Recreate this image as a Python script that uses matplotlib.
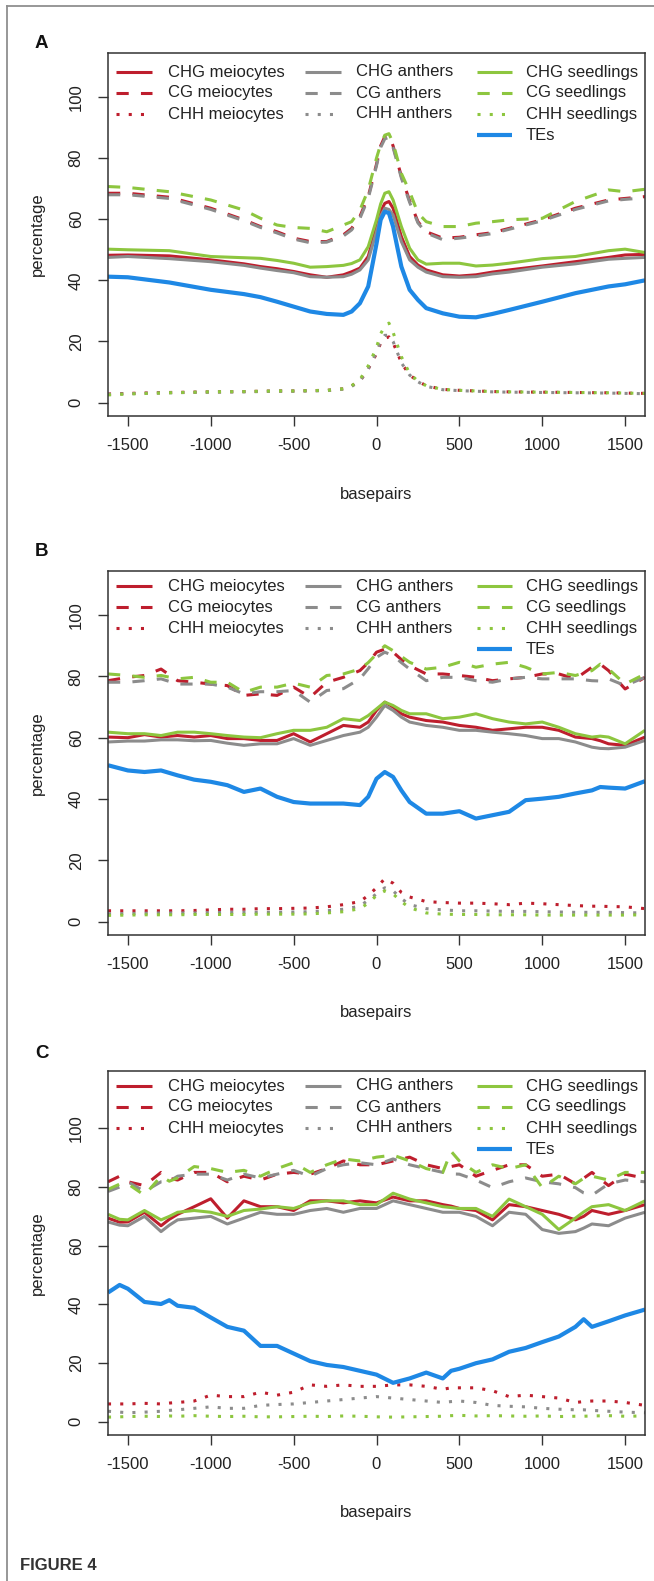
import matplotlib
matplotlib.use('Agg')
import matplotlib.pyplot as plt
from matplotlib.lines import Line2D

plt.rcParams['font.family'] = ['Liberation Sans', 'DejaVu Sans']

W, H = 654, 1581

# ---------------- panel A ----------------
xa = [-1620, -1500, -1250, -1000, -800, -700, -600, -500, -400, -300, -200, -150, -100, -50,
      0, 25, 50, 75, 100, 125, 150, 200, 250, 300, 400, 500, 600, 700, 800, 1000, 1200, 1400, 1500, 1620]
a_chg_mei = [48.2, 48.3, 48, 46.7, 45.4, 44.5, 43.8, 42.9, 41.8, 41, 41.8, 42.8, 44, 47.8, 57.6, 62.5, 65.2,
             65.8, 63.6, 59, 54.3, 47.8, 45, 43.4, 41.8, 41.4, 41.8, 42.7, 43.4, 44.7, 46.1, 47.5, 48.3, 48.5]
a_cg_mei = [68.5, 68.5, 67.2, 63.6, 59.8, 57.6, 55.9, 53.8, 52.7, 52.7, 54.9, 57, 60.9, 67.4, 78, 84, 87,
            87.5, 84, 79, 74, 66, 59.2, 55.9, 53.8, 54.1, 54.9, 55.6, 57, 59.8, 63.6, 66.3, 66.8, 67.4]
a_chh_mei = [2.8, 3, 3.3, 3.5, 3.6, 3.7, 3.8, 3.8, 3.9, 4, 4.5, 5.5, 7, 11, 16, 19.5, 21, 21.5, 19.5, 16.5,
             13, 9, 7, 5.5, 4.3, 4, 3.8, 3.6, 3.5, 3.4, 3.3, 3.2, 3.1, 3]
a_chg_ant = [47.5, 47.8, 47.1, 46.1, 44.9, 44, 43.2, 42.5, 41.2, 41, 41.2, 42, 43.4, 46.7, 55.9, 61, 63.6,
             63.2, 61.4, 57, 52.7, 46.7, 44.3, 42.7, 41.2, 41, 41.2, 42.1, 42.7, 44.3, 45.4, 46.9, 47.2, 47.5]
a_cg_ant = [68, 68, 66.8, 63.2, 59.5, 57.3, 55.5, 53.5, 52.3, 52.5, 54.5, 56.5, 60.3, 66.8, 77.5, 83.5, 86.3,
            86.8, 83.5, 78.5, 73.5, 65.5, 58.8, 55.5, 53.3, 53.8, 54.5, 55.3, 56.7, 59.5, 63.2, 66, 66.5, 67]
a_chh_ant = [2.7, 2.9, 3.2, 3.4, 3.5, 3.6, 3.7, 3.7, 3.8, 3.9, 4.4, 5.3, 7, 11, 16.5, 20, 22, 22, 20, 16.5,
             13, 9, 6.8, 5.3, 4.2, 3.9, 3.7, 3.5, 3.4, 3.3, 3.2, 3.1, 3, 2.9]
a_chg_see = [50.2, 50, 49.7, 47.8, 47.4, 47.2, 46.5, 45.6, 44.3, 44.5, 44.9, 45.5, 46.7, 51, 59.8, 65, 68.5,
             69, 66.3, 62, 57.6, 50.5, 46.7, 45.3, 45.6, 45.6, 44.7, 45, 45.6, 47.1, 47.8, 49.7, 50.2, 49.1]
a_cg_see = [70.7, 70.4, 69, 66.3, 63, 60.3, 58.1, 57.3, 57, 55.9, 58.1, 59.2, 63, 69.6, 80, 84.5, 87.5,
            88, 85, 80, 75, 69, 62, 59.2, 57.6, 57.6, 58.7, 59.2, 59.8, 60.3, 65.8, 69.6, 69, 69.8]
a_chh_see = [2.5, 2.8, 3.2, 3.5, 3.6, 3.7, 3.8, 3.8, 3.9, 4, 4.5, 5.5, 7.5, 12, 18, 22.5, 25, 26, 23, 19,
             15, 9.5, 7, 5.5, 4.3, 4, 3.8, 3.6, 3.5, 3.4, 3.3, 3.2, 3.1, 3]
a_te = [41.2, 41, 39.3, 36.9, 35.5, 34.5, 33, 31.4, 29.8, 29, 28.7, 29.8, 32.5, 38, 52, 59.8, 62.5, 62,
        57.6, 51, 44.5, 36.9, 33.6, 30.9, 29.2, 28.1, 27.9, 29, 30.3, 33, 35.8, 38, 38.7, 40]

# ---------------- panel B ----------------
xb = [-1620, -1500, -1400, -1300, -1200, -1100, -1000, -900, -800, -700, -600, -500, -400, -300, -200,
      -100, -50, 0, 50, 100, 150, 200, 300, 400, 500, 600, 700, 800, 900, 1000, 1100, 1200, 1300, 1350,
      1400, 1500, 1620]
b_chg_mei = [60.2, 60, 61, 60.2, 60.7, 60.2, 60.7, 59.7, 59.7, 59.1, 59.1, 61.3, 58.6, 61.3, 64, 63.4,
             65.1, 68.9, 71.6, 70, 67.8, 66.7, 65.6, 65.1, 64, 63.4, 62.4, 62.9, 63.4, 63.4, 62.4, 60.2,
             59.7, 59, 58, 57.5, 60.2]
b_cg_mei = [78.6, 79.7, 80.3, 82.4, 78.6, 78.1, 77.5, 77, 73.8, 74.3, 73.8, 76.5, 73.2, 78.1, 79.7, 81.9,
            84.5, 87.9, 88.9, 87.9, 85.5, 83.5, 80.8, 80.8, 80.3, 79.7, 78.6, 79.2, 79.7, 80.8, 80.8, 79.2,
            83, 84, 81.9, 75.9, 79.7]
b_chh_mei = [3.5, 3.5, 3.5, 3.5, 3.5, 3.6, 3.8, 4, 4, 4.2, 4.2, 4.3, 4.4, 4.8, 5.5, 6.5, 8.5, 11, 14, 12.5,
             9.5, 8, 6.5, 6.2, 6, 6, 5.8, 5.5, 6, 5.8, 5.5, 5.2, 5, 5, 4.9, 4.8, 4.2]
b_chg_ant = [58.6, 58.9, 58.9, 59.3, 59.3, 59, 59.1, 58.2, 57.5, 58, 58, 59.7, 57.5, 59.1, 60.7, 61.8,
             63.4, 66.7, 70.5, 68.9, 66.7, 65.1, 64, 63.4, 62.4, 62.4, 61.8, 61.3, 60.7, 59.7, 59.7, 58.6,
             56.9, 56.5, 56.4, 56.9, 59.1]
b_cg_ant = [78.1, 78.1, 78.6, 79.2, 77.5, 77.5, 77.5, 76.5, 74.3, 75, 75, 75.4, 71.6, 75.4, 76, 79.2, 82.5,
            86.2, 87.9, 86.8, 84.5, 82.4, 78.6, 79.7, 79.7, 78.6, 78.1, 79.2, 79.7, 79.2, 79.2, 79.2, 78.6,
            78.5, 79.2, 77, 79.7]
b_chh_ant = [2.5, 2.6, 2.7, 2.8, 2.8, 2.8, 2.9, 3, 3, 3, 3, 3.1, 3.2, 3.5, 4, 5, 7, 9, 11, 10, 7.5, 5.5,
             4.2, 3.8, 3.5, 3.5, 3.4, 3.3, 3.3, 3.2, 3.1, 3, 3, 3, 3, 2.9, 2.8]
b_chg_see = [61.8, 61.3, 61.3, 60.7, 61.8, 61.8, 61.3, 60.7, 60.2, 60, 61.3, 62.4, 62.4, 63.4, 66.2, 65.6,
             67.2, 69.4, 71.6, 70.5, 68.9, 67.8, 67.8, 66.2, 66.7, 67.8, 66.2, 65.1, 64.5, 65.1, 63.4, 61.3,
             60.2, 60.5, 60.2, 58, 62.4]
b_cg_see = [80.8, 80.3, 79.7, 80.3, 79.2, 79.7, 78.1, 78.1, 74.8, 76.5, 76.5, 77.8, 76.5, 80.3, 80.8, 82.4,
            84.5, 87.3, 90, 88.4, 86.5, 84.6, 82.4, 83, 84.6, 83, 84, 84.6, 83, 80.8, 81.3, 80.3, 81.9, 84,
            82.4, 77.5, 80.8]
b_chh_see = [2, 2.1, 2.2, 2.2, 2.2, 2.3, 2.3, 2.3, 2.3, 2.4, 2.4, 2.4, 2.5, 2.8, 3.2, 4.2, 6, 8.5, 10, 9,
             6.5, 4.5, 2.8, 2.4, 2.3, 2.3, 2.2, 2.2, 2.2, 2.1, 2.1, 2.1, 2.1, 2.1, 2.1, 2.1, 2.2]
b_te = [51, 49.3, 48.8, 49.3, 47.7, 46.3, 45.6, 44.5, 42.3, 43.4, 40.7, 39, 38.5, 38.5, 38.5, 38, 40.7,
        46.6, 48.8, 47.2, 42.8, 39, 35.2, 35.2, 36, 33.6, 34.7, 35.8, 39.6, 40.1, 40.7, 41.8, 42.8, 43.9,
        43.7, 43.4, 45.8]

# ---------------- panel C ----------------
xc = [-1620, -1550, -1500, -1400, -1300, -1250, -1200, -1100, -1000, -900, -800, -700, -600, -500, -400,
      -300, -200, -100, 0, 100, 200, 300, 400, 450, 500, 600, 700, 800, 900, 1000, 1100, 1200, 1250, 1300,
      1400, 1500, 1620]
c_chg_mei = [69.4, 68, 68.1, 71.4, 66.8, 69, 70.7, 73.3, 76, 69.4, 75.3, 73.3, 73.3, 72, 75.3, 75.3, 74.6,
             75.3, 74.6, 76.6, 75.3, 75.3, 74, 73.5, 72.7, 72, 68.8, 74, 73.3, 72, 70.7, 68.8, 70, 72, 70.7,
             72, 74]
c_cg_mei = [81.8, 83.7, 81.8, 80.5, 85, 83, 82.4, 85, 85, 81.8, 83.7, 82.4, 84.4, 85, 84.4, 86.3, 88.9,
            87.6, 87.6, 88.9, 90.2, 87.6, 86.3, 87, 87.6, 83.7, 85.7, 87.6, 87.6, 83.7, 84.4, 81.1, 83, 85,
            80.5, 84.4, 83]
c_chh_mei = [6, 6, 6, 6.2, 6, 6.3, 6.5, 7, 9, 8.5, 8.5, 10, 9, 10, 12.5, 12, 12.5, 12, 12, 12.5, 12.5, 12,
             11, 11.5, 11.5, 11.5, 10.5, 8.5, 9, 8.5, 8, 6.5, 6.8, 7, 7, 6.5, 5.5]
c_chg_ant = [68.1, 67, 66.8, 70, 64.8, 67, 68.8, 69.4, 70, 67.4, 69.4, 71.4, 70.7, 70.7, 72, 72.7, 71.4,
             72.7, 72.7, 75.3, 74, 72.7, 71.4, 71.4, 71.4, 70, 66.8, 71.4, 70.7, 65.5, 64.2, 64.8, 66,
             67.4, 66.8, 69.4, 71.4]
c_cg_ant = [78.5, 80, 81.8, 78.5, 81.8, 82, 83.7, 84.4, 84.4, 82.4, 84.4, 83.1, 84.4, 85.7, 83.7, 86.3,
            87.6, 88.3, 87.6, 89.6, 87.6, 86.3, 85, 84.5, 84.4, 82.4, 79.8, 81.8, 83.1, 81.8, 81.1, 79.8, 78,
            77.2, 81.1, 82.4, 81.8]
c_chh_ant = [3.5, 3.2, 3, 3.2, 3.5, 3.8, 4, 4.5, 5, 4.5, 4.5, 5.5, 5.8, 6, 6.5, 7, 7.5, 8, 8.5, 8, 7.5, 7,
             6.5, 6.8, 7, 6.5, 5.5, 5.2, 5, 4.5, 4.2, 4, 4, 3.8, 3.5, 3.2, 3]
c_chg_see = [70.7, 69, 68.8, 72, 68.8, 70, 71.4, 72, 71.4, 70, 72, 72.5, 73.3, 72.7, 74.6, 75.3, 75.3, 74,
             74, 77.9, 75.9, 74.6, 73.3, 73, 72.7, 72.7, 70, 75.9, 73.3, 70.7, 65.5, 69.4, 71.5, 73.3, 74,
             72, 75.3]
c_cg_see = [79.2, 81, 81.1, 77.2, 83.7, 82, 83.1, 87, 86.3, 85, 85.7, 83.7, 86.3, 88.3, 85, 87.6, 89.6,
            88.9, 90.2, 90.9, 88.9, 86.3, 85, 92.2, 88.9, 85, 87.6, 86.3, 87.6, 79.8, 83.7, 81.1, 83, 83.7,
            82.4, 85, 85]
c_chh_see = [1.5, 1.6, 1.7, 1.8, 1.7, 1.9, 1.8, 2, 1.8, 1.7, 1.8, 1.6, 1.6, 1.7, 1.8, 1.7, 1.9, 1.8, 1.6,
             1.5, 1.6, 1.7, 1.8, 2, 2.1, 1.9, 2, 1.9, 1.8, 1.9, 1.7, 1.8, 1.8, 1.9, 2, 1.8, 1.9]
c_te = [44, 46.6, 45.3, 40.8, 40.1, 41.4, 39.5, 38.8, 35.5, 32.3, 31, 25.8, 25.8, 23.2, 20.6, 19.3, 18.6,
        17.3, 16, 13.2, 14.7, 16.7, 14.7, 17.3, 18, 19.9, 21.2, 23.8, 25.1, 27.1, 29, 32.3, 34.9, 32.3,
        34.2, 36.2, 38.2]

x_ticks = [-1500, -1000, -500, 0, 500, 1000, 1500]
y_ticks = [0, 20, 40, 60, 80, 100]

RED = '#BE1E2D'
GRAY = '#8C8C8C'
GREEN = '#8DC63F'
BLUE = '#1E88E5'
SOLID = '-'
DASH = (0, (4, 4))
DOT = (0, (1, 3))
LW = 2.2
LW_TE = 3.0
TXT = '#222222'

keys = [('CHG meiocytes', RED, SOLID), ('CG meiocytes', RED, DASH), ('CHH meiocytes', RED, DOT),
        ('CHG anthers', GRAY, SOLID), ('CG anthers', GRAY, DASH), ('CHH anthers', GRAY, DOT),
        ('CHG seedlings', GREEN, SOLID), ('CG seedlings', GREEN, DASH), ('CHH seedlings', GREEN, DOT),
        ('TEs', BLUE, SOLID)]

AX_L, AX_R = 108, 645


def panel(fig, top, bottom, ylim, letter, letter_y, key_top, x, series):
    ax = fig.add_axes([AX_L / W, 1 - bottom / H, (AX_R - AX_L) / W, (bottom - top) / H])
    aw, ah = AX_R - AX_L, bottom - top
    for (label, color, ls), y in zip(keys, series):
        ax.plot(x, y, color=color, ls=ls, lw=LW_TE if label == 'TEs' else LW,
                solid_capstyle='butt', dash_capstyle='butt')
    ax.set_xlim(-1620, 1620)
    ax.set_ylim(*ylim)
    ax.set_xticks(x_ticks)
    ax.set_yticks(y_ticks)
    ax.set_xticklabels([str(v) for v in x_ticks], fontsize=12, color=TXT)
    ax.set_yticklabels([str(v) for v in y_ticks], fontsize=12, color=TXT, rotation=90, va='center')
    ax.tick_params(axis='both', direction='out', length=7.5, width=1, color='#333333')
    ax.tick_params(axis='y', pad=10)
    ax.tick_params(axis='x', pad=8)
    for s in ax.spines.values():
        s.set_color('#333333')
        s.set_linewidth(1.1)
    ax.set_xlabel('basepairs', fontsize=12, color=TXT, va='center')
    ax.xaxis.set_label_coords(0.5, -78 / ah)
    ax.set_ylabel('percentage', fontsize=12, color=TXT, va='center')
    ax.yaxis.set_label_coords(-71 / aw, 0.5)

    # legend, three columns laid out like the R legend (no box)
    cols = [(8, 44, 60), (197, 233, 248), (369, 404, 418)]
    groups = [keys[0:3], keys[3:6], keys[6:10]]
    for (x0, x1, xt), grp in zip(cols, groups):
        for i, (label, color, ls) in enumerate(grp):
            fy = 1 - (key_top + 21 * i) / ah
            ax.add_line(Line2D([x0 / aw, x1 / aw], [fy, fy], transform=ax.transAxes, color=color, ls=ls,
                               lw=LW_TE if label == 'TEs' else LW, dash_capstyle='butt',
                               solid_capstyle='butt'))
            ax.text(xt / aw, fy, label, transform=ax.transAxes, fontsize=12, color=TXT,
                    ha='left', va='center')

    fig.text(35 / W, 1 - letter_y / H, letter, fontsize=13.5, fontweight='bold', color='#111111',
             ha='left', va='center')
    return ax


fig = plt.figure(figsize=(W / 100, H / 100), dpi=100)

panel(fig, 53, 416, (-4.4, 114.4), 'A', 44, 19, xa,
      [a_chg_mei, a_cg_mei, a_chh_mei, a_chg_ant, a_cg_ant, a_chh_ant, a_chg_see, a_cg_see, a_chh_see, a_te])
panel(fig, 571, 935, (-4.4, 114.4), 'B', 552, 15, xb,
      [b_chg_mei, b_cg_mei, b_chh_mei, b_chg_ant, b_cg_ant, b_chh_ant, b_chg_see, b_cg_see, b_chh_see, b_te])
panel(fig, 1071, 1435, (-4.6, 119.6), 'C', 1053, 15, xc,
      [c_chg_mei, c_cg_mei, c_chh_mei, c_chg_ant, c_cg_ant, c_chh_ant, c_chg_see, c_cg_see, c_chh_see, c_te])

# page frame of the journal figure
fig.add_artist(Line2D([7 / W, 7 / W], [0, 1 - 6 / H], transform=fig.transFigure, color='#8f8f8f', lw=1.3))
fig.add_artist(Line2D([7 / W, 1], [1 - 6 / H, 1 - 6 / H], transform=fig.transFigure, color='#8f8f8f', lw=1.3))

fig.text(20 / W, 1 - 1565 / H, 'FIGURE 4', fontsize=12, fontweight='bold', color='#333333',
         ha='left', va='center')

fig.savefig('out.png', dpi=100)
